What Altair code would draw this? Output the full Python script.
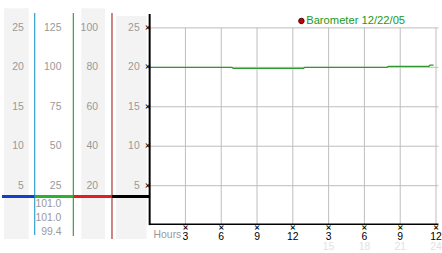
import altair as alt
import pandas as pd

# ---------------- data ----------------
tick_values = [25, 20, 15, 10, 5]
col1_labels = ["25", "20", "15", "10", "5"]
col2_labels = ["125", "100", "75", "50", "25"]
col3_labels = ["100", "80", "60", "40", "20"]
col4_labels = ["25", "20", "15", "10", "5"]
readings = ["101.0", "101.0", "99.4"]

baro_hours = [0, 6.9, 7.0, 12.9, 13.0, 19.9, 20.0, 23.4, 23.5, 23.8]
baro_values = [20.0, 20.0, 19.88, 19.88, 20.0, 20.0, 20.13, 20.13, 20.27, 20.27]

hour_ticks = [3, 6, 9, 12, 15, 18, 21, 24]
hour_labels = ["3", "6", "9", "12", "3", "6", "9", "12"]
faint_hours = [15, 18, 21, 24]
faint_labels = ["15", "18", "21", "24"]
legend_label = "Barometer 12/22/05"

# ---------------- layout constants ----------------
FONT = "Liberation Sans"
GRAY_TXT = "#999999"
Y_DOM = [-3.39, 28.39]
H = 253
GLYPH = "\u00d7"

ys = alt.Scale(domain=Y_DOM, nice=False, zero=False)
xs_left = alt.Scale(domain=[0, 4], nice=False, zero=False)
xs_main = alt.Scale(domain=[0, 24.336], nice=False, zero=False)

# ---------------- left panel ----------------
bg = pd.DataFrame({
    "x": [0.054, 2.148, 3.087],
    "x2": [0.725, 2.792, 3.919],
    "y": [27.5, 27.5, 26.5],
    "y2": [-1.76, -1.76, -1.76],
})
bg_layer = alt.Chart(bg).mark_rect(color="#f3f3f3").encode(
    x=alt.X("x:Q", scale=xs_left, axis=None), x2="x2:Q",
    y=alt.Y("y:Q", scale=ys, axis=None), y2="y2:Q")

rows = []
for xr, labs in zip([0.59, 1.61, 2.60, 3.73], [col1_labels, col2_labels, col3_labels, col4_labels]):
    for v, t in zip(tick_values, labs):
        rows.append({"x": xr, "v": v, "t": t})
for v, t in zip([2.64, 0.88, -0.88], readings):
    rows.append({"x": 1.61, "v": v, "t": t})
lab_layer = alt.Chart(pd.DataFrame(rows)).mark_text(
    align="right", baseline="middle", font=FONT, fontSize=10.5, color=GRAY_TXT).encode(
    x=alt.X("x:Q", scale=xs_left, axis=None),
    y=alt.Y("v:Q", scale=ys, axis=None), text="t:N")

vlines = pd.DataFrame({
    "x": [0.886, 1.933, 2.980],
    "y": [26.9, 26.9, 26.9],
    "y2": [-1.26, -1.38, -1.76],
    "c": ["#2f9fd0", "#36a036", "#a83232"],
})
vline_layer = alt.Chart(vlines).mark_rule(strokeWidth=1.2).encode(
    x=alt.X("x:Q", scale=xs_left, axis=None),
    y=alt.Y("y:Q", scale=ys, axis=None), y2="y2:Q",
    color=alt.Color("c:N", scale=None))

hsegs = pd.DataFrame({
    "x": [0, 0.886, 1.933, 2.980],
    "x2": [0.886, 1.933, 2.980, 4.0],
    "y": [3.64] * 4,
    "c": ["#1040c8", "#30b030", "#e02020", "#000000"],
})
hseg_layer = alt.Chart(hsegs).mark_rule(strokeWidth=3).encode(
    x=alt.X("x:Q", scale=xs_left, axis=None), x2="x2:Q",
    y=alt.Y("y:Q", scale=ys, axis=None),
    color=alt.Color("c:N", scale=None))

ytick_layer = alt.Chart(pd.DataFrame({"v": tick_values, "x": [3.95] * 5, "t": [GLYPH] * 5})).mark_text(
    align="center", baseline="middle", font="DejaVu Sans", fontSize=8, fontWeight="bold",
    color="black").encode(
    x=alt.X("x:Q", scale=xs_left, axis=None),
    y=alt.Y("v:Q", scale=ys, axis=None), text="t:N")

left = alt.layer(bg_layer, vline_layer, hseg_layer, lab_layer, ytick_layer).properties(
    width=149, height=H)

# ---------------- main panel ----------------
vgrid = alt.Chart(pd.DataFrame({"h": hour_ticks})).mark_rule(color="#bdbdbd", strokeWidth=1).encode(
    x=alt.X("h:Q", scale=xs_main, axis=None),
    y=alt.datum(0, scale=ys, axis=None), y2=alt.datum(25))
hgrid = alt.Chart(pd.DataFrame({"v": tick_values})).mark_rule(color="#bdbdbd", strokeWidth=1).encode(
    y=alt.Y("v:Q", scale=ys, axis=None),
    x=alt.datum(0, scale=xs_main, axis=None), x2=alt.datum(24.2))

yaxis = alt.Chart(pd.DataFrame({"a": [0]})).mark_rule(color="black", strokeWidth=2).encode(
    x=alt.datum(0, scale=xs_main, axis=None),
    y=alt.datum(0, scale=ys, axis=None), y2=alt.datum(26.76))
xaxis = alt.Chart(pd.DataFrame({"a": [0]})).mark_rule(color="black", strokeWidth=1.5).encode(
    y=alt.datum(0.1, scale=ys, axis=None),
    x=alt.datum(0, scale=xs_main, axis=None), x2=alt.datum(24.2))

baro = alt.Chart(pd.DataFrame({"h": baro_hours, "v": baro_values})).mark_line(
    color="#2e9a2e", strokeWidth=1.3).encode(
    x=alt.X("h:Q", scale=xs_main, axis=None),
    y=alt.Y("v:Q", scale=ys, axis=None))

xtick = alt.Chart(pd.DataFrame({"h": hour_ticks, "t": [GLYPH] * len(hour_ticks)})).mark_text(
    align="center", baseline="middle", font="DejaVu Sans", fontSize=8, fontWeight="bold",
    color="black").encode(
    x=alt.X("h:Q", scale=xs_main, axis=None),
    y=alt.datum(-0.35, scale=ys, axis=None), text="t:N")
xlab = alt.Chart(pd.DataFrame({"h": hour_ticks, "t": hour_labels})).mark_text(
    align="center", baseline="middle", font=FONT, fontSize=10.5, color="black").encode(
    x=alt.X("h:Q", scale=xs_main, axis=None),
    y=alt.datum(-1.45, scale=ys, axis=None), text="t:N")
faint = alt.Chart(pd.DataFrame({"h": faint_hours, "t": faint_labels})).mark_text(
    align="center", baseline="middle", font=FONT, fontSize=10.5, color="#e2e2e2").encode(
    x=alt.X("h:Q", scale=xs_main, axis=None),
    y=alt.datum(-2.8, scale=ys, axis=None), text="t:N")
hours_title = alt.Chart(pd.DataFrame({"t": ["Hours"]})).mark_text(
    align="left", baseline="middle", font=FONT, fontSize=10.5, color=GRAY_TXT).encode(
    x=alt.datum(0.33, scale=xs_main, axis=None),
    y=alt.datum(-1.26, scale=ys, axis=None), text="t:N")

leg_dot = alt.Chart(pd.DataFrame({"t": [legend_label]})).mark_point(
    shape="circle", size=30, filled=True, color="#cc0000", stroke="#440000",
    strokeWidth=1, opacity=1).encode(
    x=alt.datum(12.72, scale=xs_main, axis=None),
    y=alt.datum(25.88, scale=ys, axis=None))
leg_txt = alt.Chart(pd.DataFrame({"t": [legend_label]})).mark_text(
    align="left", baseline="middle", font=FONT, fontSize=11.3, color="#229922").encode(
    x=alt.datum(13.12, scale=xs_main, axis=None),
    y=alt.datum(25.88, scale=ys, axis=None), text="t:N")

main = alt.layer(vgrid, hgrid, baro, yaxis, xaxis, xtick, xlab, faint, hours_title,
                 leg_dot, leg_txt).properties(width=293, height=H)

chart = alt.hconcat(left, main, spacing=0, bounds="flush").properties(
    padding=0, background="white"
).configure_view(strokeWidth=0)

chart.save("out.html", embed_options={"renderer": "svg", "actions": False})
